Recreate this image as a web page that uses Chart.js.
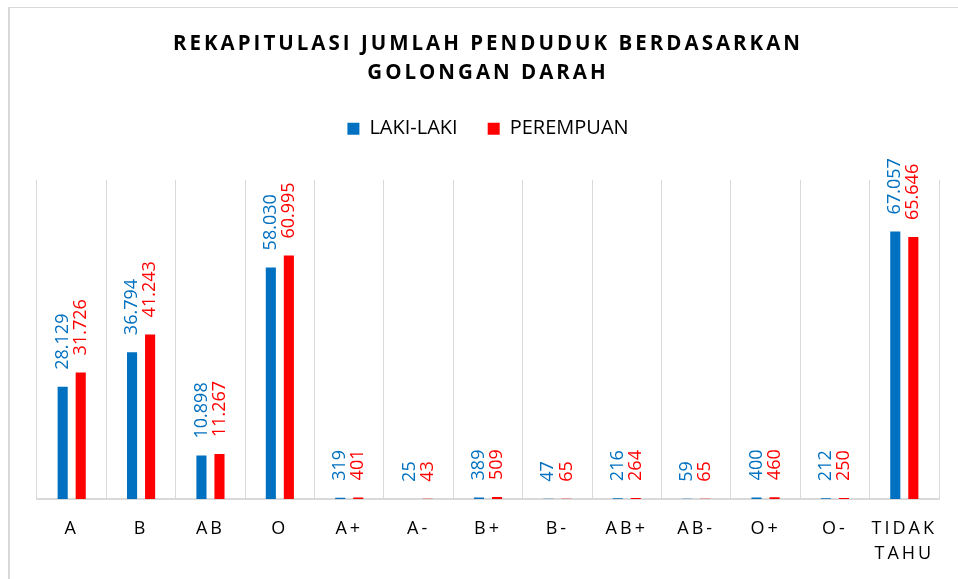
<!DOCTYPE html>
<html>
<head>
<meta charset="utf-8">
<script src="https://cdn.jsdelivr.net/npm/chart.js@4"></script>
<style>
    body { margin: 0; background: #fff; }
    .wrap { position: relative; width: 958px; height: 579px; overflow: hidden; }
    .frame {
        position: absolute; left: 8px; top: 7px; width: 1000px; height: 600px;
        border-left: 2px solid #D9D9D9; border-top: 1px solid #D9D9D9;
    }
    canvas { position: absolute; left: 0; top: 0; }
</style>
</head>
<body>
<div class="wrap">
    <div class="frame"></div>
    <canvas id="chart" width="958" height="579"></canvas>
</div>
<script>
// data
const categories = ['A', 'B', 'AB', 'O', 'A+', 'A-', 'B+', 'B-', 'AB+', 'AB-', 'O+', 'O-', ['TIDAK', 'TAHU']];
const lakiLaki = [28129, 36794, 10898, 58030, 319, 25, 389, 47, 216, 59, 400, 212, 67057];
const perempuan = [31726, 41243, 11267, 60995, 401, 43, 509, 65, 264, 65, 460, 250, 65646];
const titleLines = ['REKAPITULASI JUMLAH PENDUDUK BERDASARKAN', 'GOLONGAN DARAH'];

const BLUE = '#0070C0';
const RED = '#FF0000';
const GRID = '#D9D9D9';

// angka pakai titik sebagai pemisah ribuan
function formatNumber(v) {
    return String(v).replace(/\B(?=(\d{3})+(?!\d))/g, '.');
}

// bungkus fungsi gambar supaya pakai letter spacing
function withSpacing(obj, method, spacing) {
    if (!obj || obj[method]._spaced) return;
    const orig = obj[method];
    const wrapped = function() {
        const ctx = this.ctx;
        const prev = ctx.letterSpacing;
        ctx.letterSpacing = spacing;
        orig.apply(this, arguments);
        ctx.letterSpacing = prev;
    };
    wrapped._spaced = true;
    obj[method] = wrapped;
}

const spacingPlugin = {
    id: 'spacing',
    beforeDraw(chart) {
        withSpacing(chart.titleBlock, 'draw', '3px');
        withSpacing(chart.scales.x, 'drawLabels', '3px');
    }
};

// label nilai vertikal di atas batang
const valueLabels = {
    id: 'valueLabels',
    afterDatasetsDraw(chart) {
        const ctx = chart.ctx;
        chart.data.datasets.forEach((ds, i) => {
            const meta = chart.getDatasetMeta(i);
            meta.data.forEach((bar, j) => {
                ctx.save();
                ctx.translate(bar.x, bar.y - 17);
                ctx.rotate(-Math.PI / 2);
                ctx.font = "18px 'Open Sans', sans-serif";
                ctx.fillStyle = ds.backgroundColor;
                ctx.textAlign = 'left';
                ctx.textBaseline = 'middle';
                ctx.fillText(formatNumber(ds.data[j]), 0, 0);
                ctx.restore();
            });
        });
    }
};

Chart.defaults.font.family = "'Open Sans', sans-serif";
Chart.defaults.color = '#000';

new Chart(document.getElementById('chart'), {
    type: 'bar',
    data: {
        labels: categories,
        datasets: [
            {
                label: 'LAKI-LAKI',
                data: lakiLaki,
                backgroundColor: BLUE,
                borderWidth: 0,
                categoryPercentage: 0.52,
                barPercentage: 0.56
            },
            {
                label: 'PEREMPUAN',
                data: perempuan,
                backgroundColor: RED,
                borderWidth: 0,
                categoryPercentage: 0.52,
                barPercentage: 0.56
            }
        ]
    },
    options: {
        responsive: false,
        animation: false,
        layout: {
            padding: { left: 37, right: 19, top: 0, bottom: 0 }
        },
        plugins: {
            title: {
                display: true,
                text: titleLines,
                color: '#000',
                font: { size: 20.5, weight: 'bold', lineHeight: 1.42 },
                padding: { top: 29.5, bottom: 1 }
            },
            legend: {
                position: 'top',
                labels: {
                    color: '#000',
                    font: { size: 20 },
                    boxWidth: 12,
                    boxHeight: 12,
                    padding: 30
                }
            },
            tooltip: { enabled: false }
        },
        scales: {
            x: {
                offset: true,
                grid: {
                    offset: true,
                    color: GRID,
                    lineWidth: 1,
                    drawTicks: false
                },
                border: { color: GRID, width: 2 },
                ticks: {
                    color: '#000',
                    font: { size: 18, lineHeight: 1.35 },
                    padding: 18,
                    autoSkip: false,
                    maxRotation: 0
                },
                afterFit(scale) { scale.height = 80; }
            },
            spacer: {
                type: 'category',
                position: 'top',
                labels: categories,
                grid: { display: false },
                border: { display: false },
                ticks: { display: false },
                afterFit(scale) { scale.height = 31; }
            },
            y: {
                display: false,
                min: 0,
                max: 80000
            }
        }
    },
    plugins: [spacingPlugin, valueLabels]
});
</script>
</body>
</html>
